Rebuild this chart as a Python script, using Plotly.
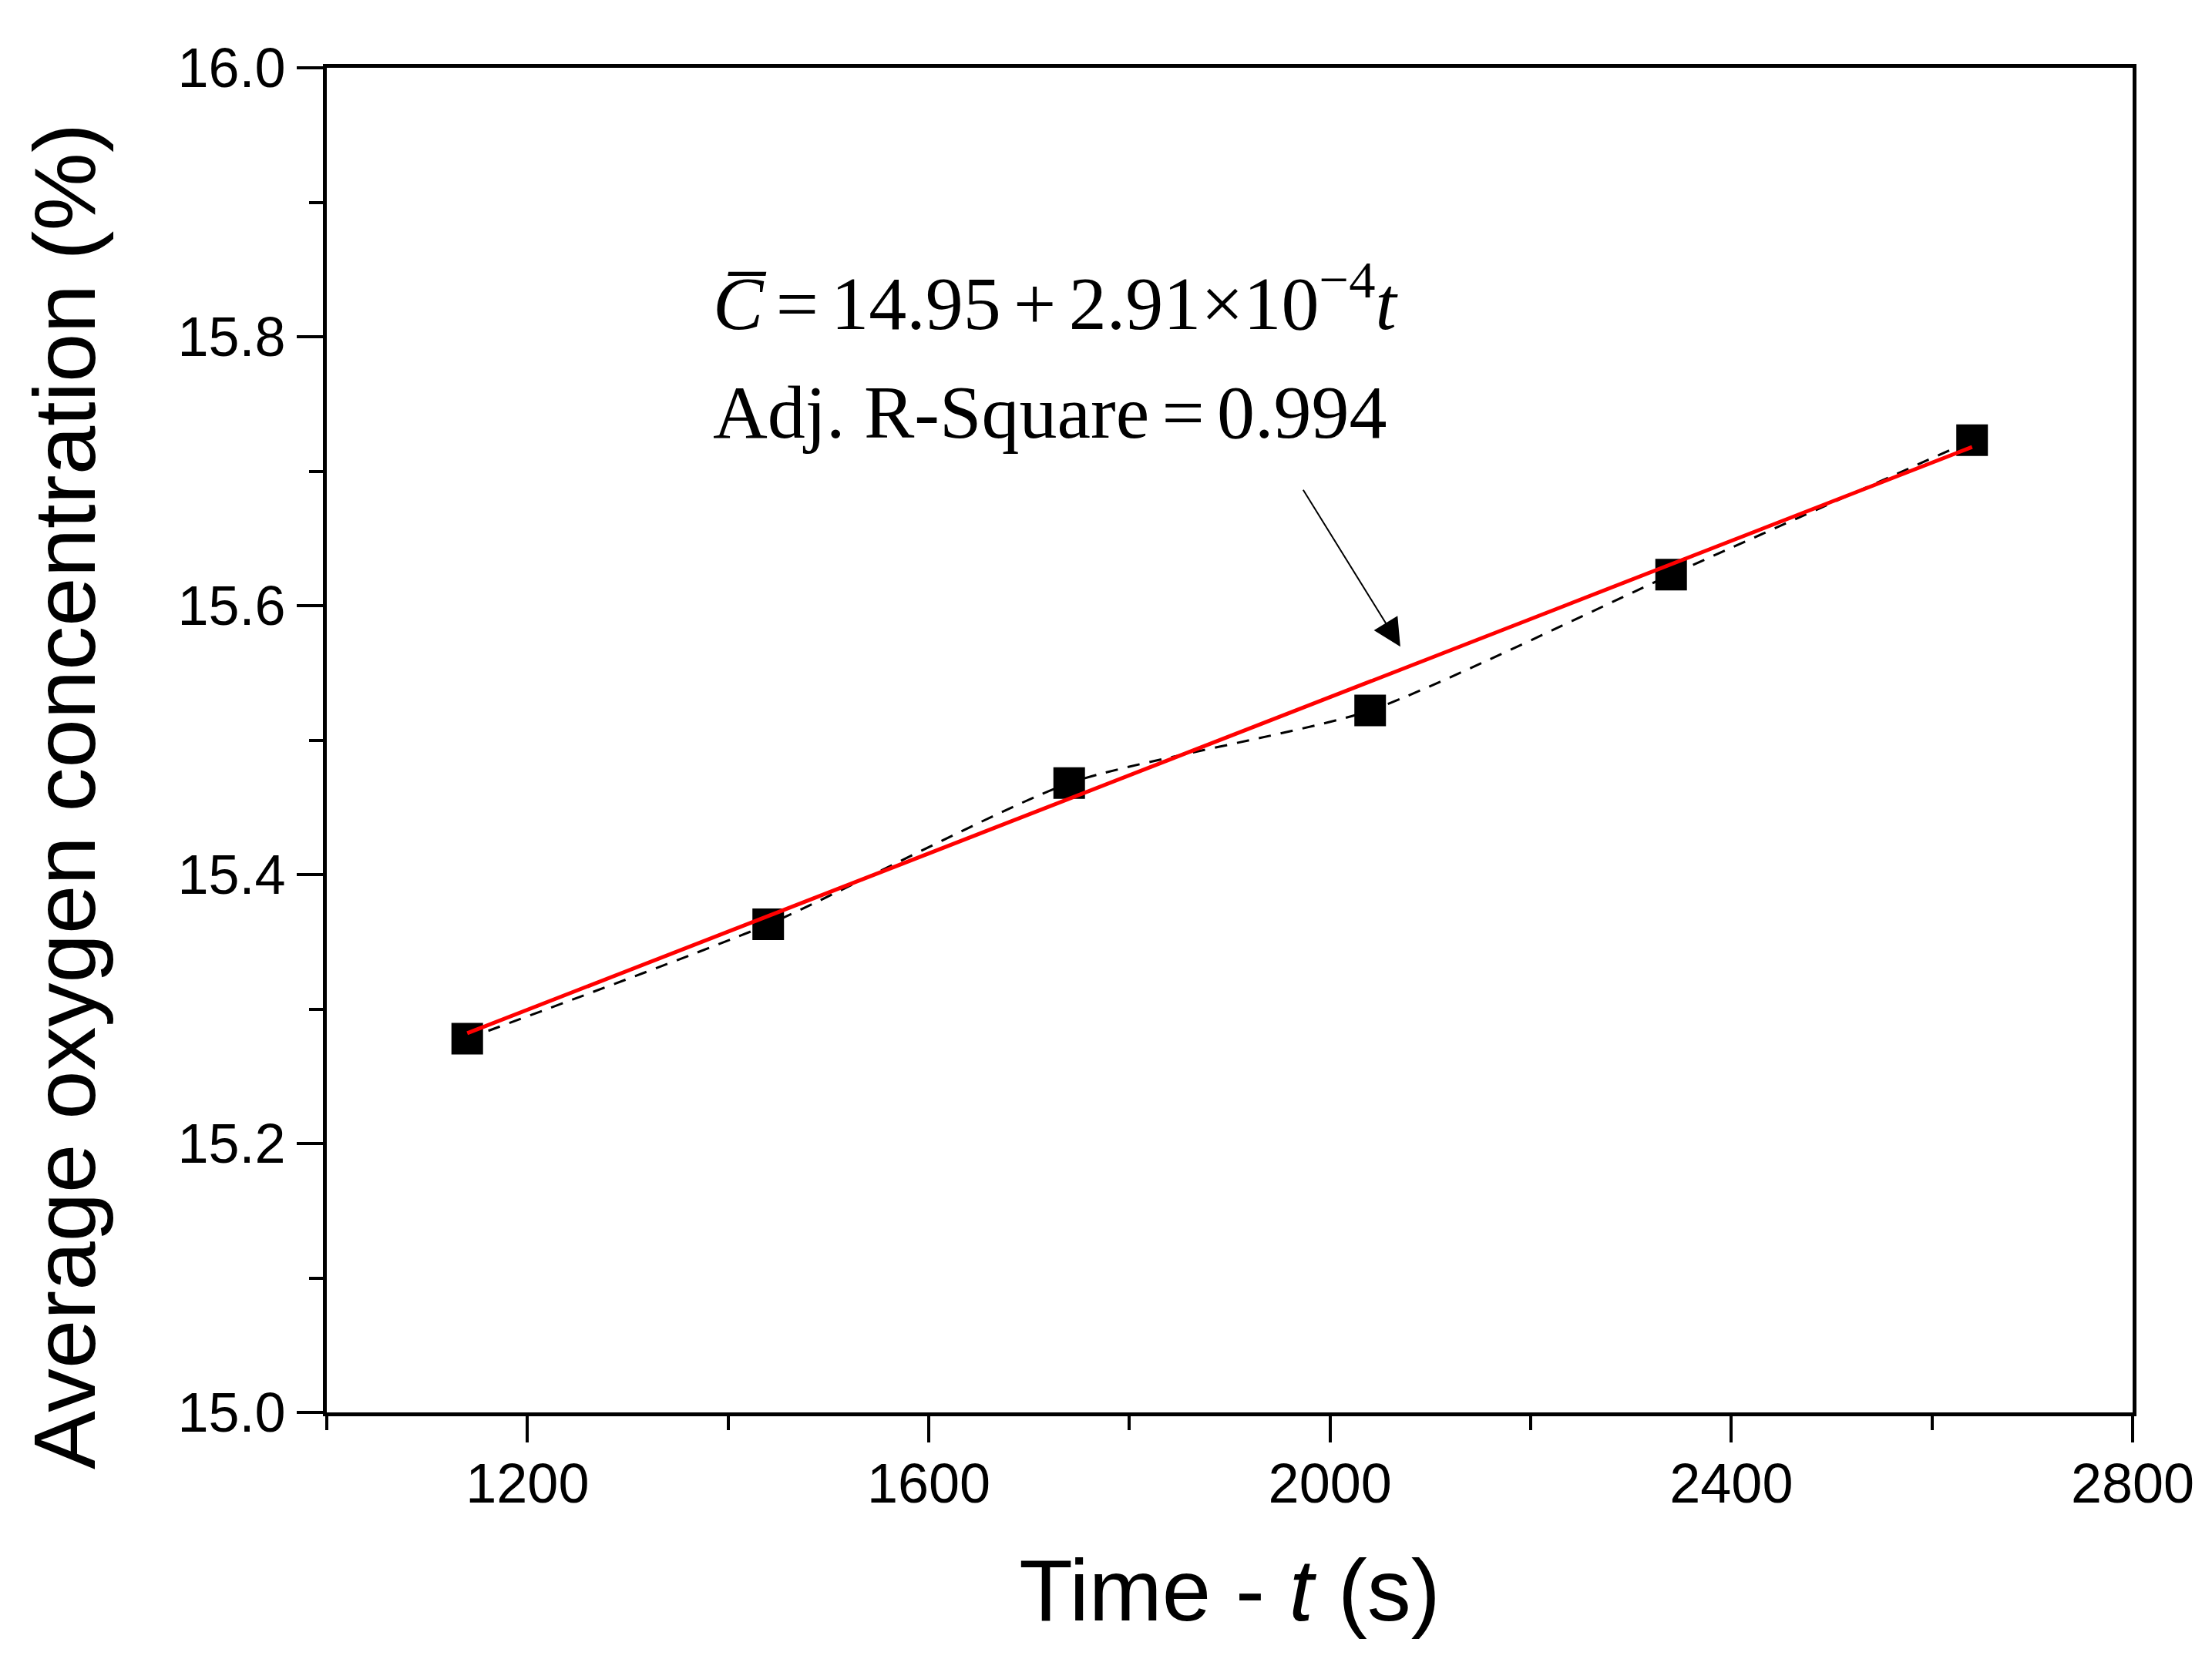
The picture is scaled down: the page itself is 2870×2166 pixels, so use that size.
import plotly.graph_objects as go

# Data
time_s = [1140, 1440, 1740, 2040, 2340, 2640]
avg_o2 = [15.278, 15.363, 15.468, 15.522, 15.623, 15.723]
fit_x = [1140, 2640]
fit_y = [15.282, 15.718]

x_tickvals = [1200, 1600, 2000, 2400, 2800]
y_tickvals = [15.0, 15.2, 15.4, 15.6, 15.8, 16.0]

W, H = 2870, 2166
ML, MR, MT, MB = 416, 111, 80, 341

fig = go.Figure()
fig.add_trace(go.Scatter(
    x=time_s, y=avg_o2, mode="lines+markers",
    line=dict(color="black", width=3, dash="16px,13px", shape="spline", smoothing=0.6),
    marker=dict(symbol="square", size=41, color="black"),
    showlegend=False,
))
fig.add_trace(go.Scatter(
    x=fit_x, y=fit_y, mode="lines",
    line=dict(color="#ff0000", width=5),
    showlegend=False,
))

axis_common = dict(
    showline=True, linecolor="black", linewidth=5, mirror=True,
    showgrid=False, zeroline=False,
    ticks="outside", ticklen=34, tickwidth=4, tickcolor="black",
    tickfont=dict(family="Liberation Sans, Arial", size=72, color="black"),
)

fig.update_xaxes(
    range=[1000, 2800], tickvals=x_tickvals,
    ticktext=[str(v) for v in x_tickvals],
    ticklabelstandoff=-8,
    minor=dict(dtick=200, tick0=1000, ticks="outside", ticklen=18, tickwidth=4, tickcolor="black"),
    title=dict(text="Time - <i>t</i> (s)", font=dict(family="Liberation Sans, Arial", size=114, color="black"), standoff=60),
    **axis_common,
)
fig.update_yaxes(
    range=[15.0, 16.0], tickvals=y_tickvals,
    ticktext=[f"{v:.1f}" for v in y_tickvals],
    minor=dict(dtick=0.1, tick0=15.0, ticks="outside", ticklen=18, tickwidth=4, tickcolor="black"),
    **axis_common,
)

serif = dict(family="Liberation Serif, Times New Roman", size=98, color="black")
sp = "\u2006"

fig.add_annotation(
    xref="paper", yref="paper", x=0.213, y=0.829, xanchor="left", yanchor="middle",
    text=f"<i>C\u0305</i>{sp}={sp}14.95{sp}+{sp}2.91×10<sup>−4</sup><i>t</i>", showarrow=False, font=serif,
)
fig.add_annotation(
    xref="paper", yref="paper", x=0.213, y=0.744, xanchor="left", yanchor="middle",
    text=f"Adj. R-Square{sp}={sp}0.994", showarrow=False, font=serif,
)
fig.add_annotation(
    xref="paper", yref="paper", x=0.5945, y=0.5695, text="",
    showarrow=True, arrowhead=2, arrowsize=3.6, arrowwidth=2, arrowcolor="black",
    ax=-127, ay=-205,
)
fig.add_annotation(
    xref="paper", yref="paper", x=-0.145, y=0.458, xanchor="center", yanchor="middle",
    text="Average oxygen concentration (%)", textangle=-90, showarrow=False,
    font=dict(family="Liberation Sans, Arial", size=114, color="black"),
)

fig.update_layout(
    width=W, height=H,
    margin=dict(l=ML, r=MR, t=MT, b=MB, autoexpand=False),
    paper_bgcolor="white", plot_bgcolor="white",
)

fig.write_html("out.html")
